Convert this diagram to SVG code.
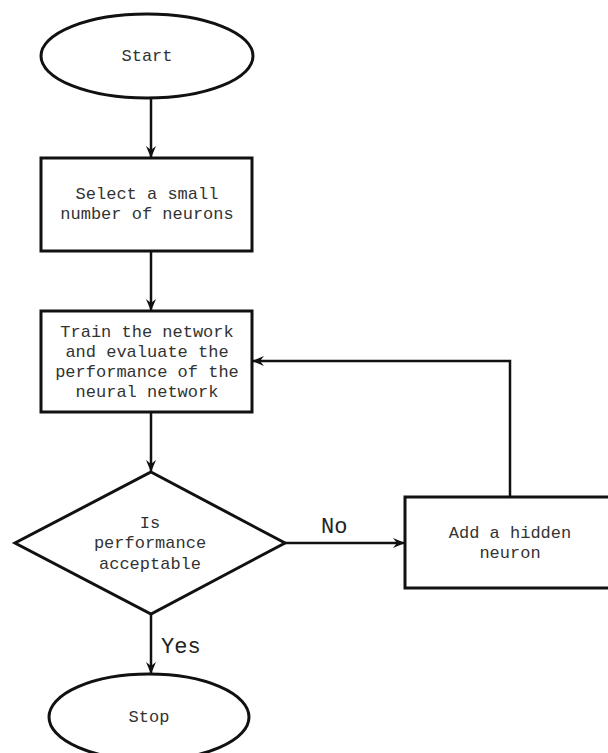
<svg xmlns="http://www.w3.org/2000/svg" width="608" height="753" viewBox="0 0 608 753">
  <defs>
    <marker id="arr" viewBox="0 0 12 10" refX="11" refY="5" markerWidth="12" markerHeight="10" markerUnits="userSpaceOnUse" orient="auto">
      <path d="M0,0 L12,5 L0,10 L4,5 z" fill="#111"/>
    </marker>
  </defs>
  <style>
    .shape { fill: #fff; stroke: #111; stroke-width: 3; }
    .conn { fill: none; stroke: #111; stroke-width: 2.5; marker-end: url(#arr); }
    .t { font-family: "Liberation Mono", "Courier New", monospace; font-size: 17px; fill: #333; text-anchor: middle; }
    .lbl { font-family: "Liberation Mono", "Courier New", monospace; font-size: 22px; fill: #222; }
  </style>
  <rect width="608" height="753" fill="#fff"/>

  <g id="start">
    <ellipse class="shape" cx="147" cy="56" rx="106" ry="42"/>
    <text class="t" x="147" y="61">Start</text>
  </g>

  <g id="select">
    <rect class="shape" x="41" y="158" width="211" height="93"/>
    <text class="t" x="147" y="199">Select a small</text>
    <text class="t" x="147" y="219">number of neurons</text>
  </g>

  <g id="train">
    <rect class="shape" x="41" y="311" width="211" height="101"/>
    <text class="t" x="147" y="337">Train the network</text>
    <text class="t" x="147" y="357">and evaluate the</text>
    <text class="t" x="147" y="377">performance of the</text>
    <text class="t" x="147" y="397">neural network</text>
  </g>

  <g id="decision">
    <polygon class="shape" points="151,472 285,543 151,614 15,543"/>
    <text class="t" x="150" y="528">Is</text>
    <text class="t" x="150" y="548">performance</text>
    <text class="t" x="150" y="569">acceptable</text>
  </g>

  <g id="add">
    <rect class="shape" x="405" y="497" width="210" height="91"/>
    <text class="t" x="510" y="538">Add a hidden</text>
    <text class="t" x="510" y="558">neuron</text>
  </g>

  <g id="stop">
    <ellipse class="shape" cx="149" cy="717" rx="100" ry="43"/>
    <text class="t" x="149" y="722">Stop</text>
  </g>

  <g id="connectors">
    <line class="conn" x1="151" y1="98" x2="151" y2="157"/>
    <line class="conn" x1="151" y1="251" x2="151" y2="310"/>
    <line class="conn" x1="151" y1="412" x2="151" y2="471"/>
    <line class="conn" x1="285" y1="543" x2="404" y2="543"/>
    <polyline class="conn" points="510,497 510,361 253,361"/>
    <line class="conn" x1="151" y1="614" x2="151" y2="673"/>
    <text class="lbl" x="321" y="533">No</text>
    <text class="lbl" x="161" y="653">Yes</text>
  </g>
</svg>
